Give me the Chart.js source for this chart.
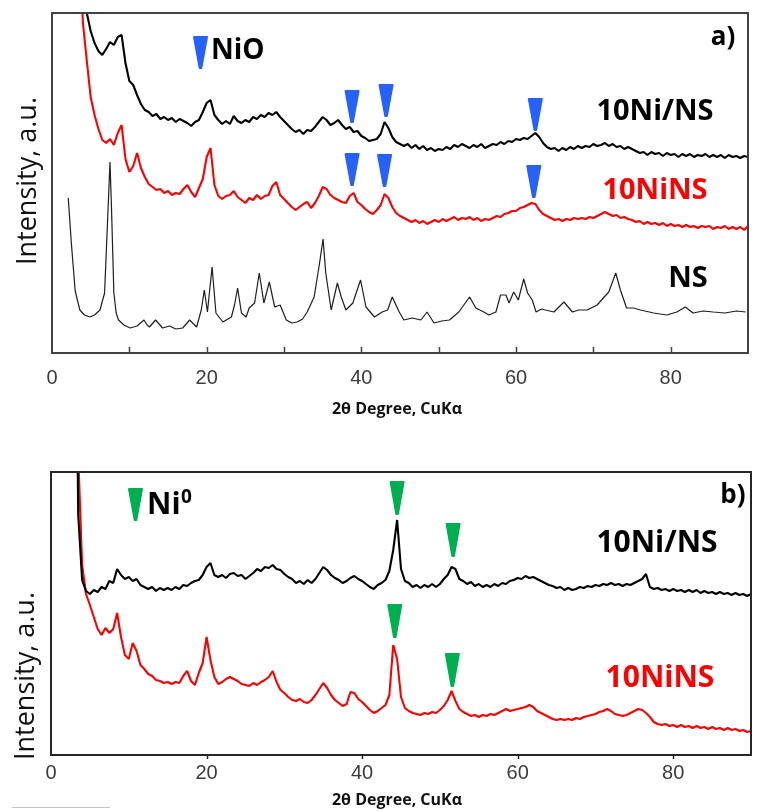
<!DOCTYPE html>
<html>
<head>
<meta charset="utf-8">
<script src="https://cdn.jsdelivr.net/npm/chart.js@4.4.1/dist/chart.umd.min.js"></script>
<style>
  html, body { margin: 0; padding: 0; background: #fff; width: 758px; height: 812px; overflow: hidden; }
  canvas { position: absolute; left: 0; }
  #panelA { top: 0; }
  #panelB { top: 430px; }
</style>
</head>
<body>
<canvas id="panelA" width="758" height="425"></canvas>
<canvas id="panelB" width="758" height="382"></canvas>
<script>
// 2θ scan grid (degrees) shared by the noisy patterns
const twoTheta = [];
for (let a = 2; a <= 90; a += 0.5) twoTheta.push(a);

// Panel a) calcined samples, intensity in arbitrary units (offset stacked)
const calcNiSlashNS = [
  null, null, null, null, 420, 340, 322, 310, 302, 298,
  304, 311, 308, 316, 318, 290, 272, 268, 258, 249,
  243, 241, 237, 239, 234, 236, 233, 235, 231, 234,
  232, 230, 227, 231, 233, 241, 250, 253, 238, 233,
  229, 232, 229, 237, 232, 230, 233, 231, 236, 234,
  238, 236, 240, 238, 241, 236, 232, 228, 224, 221,
  223, 219, 223, 222, 226, 231, 236, 233, 228, 230,
  233, 228, 224, 226, 221, 222, 217, 215, 212, 213,
  214, 219, 231, 225, 216, 211, 209, 207, 209, 205,
  208, 204, 207, 203, 205, 202, 204, 203, 206, 204,
  208, 206, 209, 207, 205, 208, 206, 209, 205, 207,
  209, 208, 211, 209, 212, 211, 214, 213, 215, 214,
  217, 220, 216, 210, 206, 204, 205, 202, 205, 203,
  206, 204, 207, 205, 207, 206, 209, 207, 208, 210,
  207, 209, 206, 207, 204, 206, 204, 202, 200, 201,
  198, 201, 199, 200, 197, 200, 198, 199, 196, 199,
  197, 199, 196, 198, 197, 199, 196, 198, 196, 198,
  195, 198, 196, 197, 195, 197, 196
];
const calcNiNS = [
  null, null, null, 420, 330, 292, 256, 238, 224, 213,
  210, 214, 208, 220, 228, 194, 181, 187, 200, 185,
  176, 169, 166, 163, 164, 160, 162, 158, 160, 159,
  164, 168, 161, 156, 165, 174, 196, 205, 168, 157,
  154, 157, 158, 162, 156, 153, 150, 155, 153, 158,
  154, 157, 158, 167, 171, 158, 154, 150, 146, 143,
  146, 149, 151, 145, 150, 157, 166, 164, 158, 155,
  153, 151, 150, 157, 160, 151, 148, 144, 141, 139,
  143, 148, 159, 155, 146, 140, 137, 135, 133, 131,
  133, 130, 132, 129, 131, 133, 131, 134, 132, 134,
  136, 133, 135, 134, 136, 133, 135, 132, 134, 133,
  135, 137, 136, 139, 140, 142, 142, 145, 146, 148,
  150, 149, 143, 139, 137, 135, 133, 134, 132, 134,
  133, 135, 134, 135, 134, 136, 135, 137, 139, 141,
  139, 137, 138, 135, 136, 134, 133, 131, 132, 129,
  131, 129, 130, 128, 130, 127, 129, 127, 128, 126,
  128, 126, 127, 125, 127, 126, 127, 124, 126, 125,
  127, 124, 126, 124, 126, 123, 127
];
// NS support pattern, sampled at its own angles
const nsAngles = [
  2.1, 2.5, 3.0, 3.6, 4.2, 4.9, 5.5, 6.2, 6.8, 7.1, 7.5, 7.7, 8.0, 8.3, 8.6, 9.3,
  10.1, 11.0, 11.9, 12.3, 12.6, 13.4, 14.3, 15.2, 16.0, 16.9, 17.8, 18.7, 19.3, 19.7,
  20.1, 20.7, 21.2, 22.1, 23.2, 23.6, 24.0, 24.5, 25.1, 25.5, 26.2, 26.8, 27.4, 28.1,
  28.8, 29.5, 30.3, 31.0, 31.7, 32.4, 33.0, 33.9, 34.6, 35.05, 35.4, 36.1, 36.9, 37.4,
  38.0, 38.9, 39.9, 40.6, 41.7, 42.7, 43.4, 44.0, 44.9, 45.5, 46.6, 47.7, 48.5, 49.4,
  50.4, 51.4, 52.6, 54.0, 54.8, 55.6, 56.5, 57.4, 58.0, 58.7, 59.1, 59.7, 60.3, 61.0,
  61.5, 62.1, 62.6, 63.3, 63.8, 64.9, 66.2, 67.3, 68.1, 69.2, 70.5, 71.4, 72.0, 72.9,
  73.5, 74.3, 75.2, 76.1, 77.8, 79.5, 80.8, 81.9, 82.9, 84.2, 85.5, 87.0, 88.5, 89.7
];
const nsValues = [
  155, 110, 62, 43, 38, 36, 38, 43, 60, 116, 191, 143, 60, 40, 33, 28,
  25, 27, 33, 28, 26, 33, 25, 27, 24, 25, 33, 26, 43, 63,
  41, 86, 40, 31, 36, 48, 65, 40, 36, 45, 50, 80, 50, 71,
  46, 48, 33, 30, 31, 34, 41, 56, 90, 114, 80, 43, 70, 56,
  43, 50, 73, 46, 36, 41, 43, 56, 41, 33, 35, 33, 41, 30,
  32, 33, 41, 56, 45, 42, 38, 41, 58, 58, 50, 61, 53, 74,
  60, 53, 41, 44, 43, 41, 51, 41, 43, 43, 48, 56, 61, 80,
  63, 45, 45, 43, 40, 38, 41, 46, 40, 42, 41, 40, 42, 41
];

// Panel b) reduced samples
const redNiSlashNS = [
  null, null, 600, 240, 175, 164, 161, 165, 163, 168,
  166, 174, 172, 186, 180, 176, 178, 174, 176, 170,
  168, 166, 168, 164, 167, 165, 167, 165, 168, 166,
  170, 169, 172, 174, 175, 180, 188, 192, 180, 178,
  180, 177, 181, 182, 179, 180, 176, 179, 182, 186,
  184, 188, 187, 190, 186, 185, 181, 178, 176, 172,
  174, 171, 175, 172, 176, 182, 188, 185, 180, 177,
  175, 172, 174, 177, 179, 176, 174, 171, 168, 166,
  170, 172, 175, 184, 205, 235, 186, 174, 172, 168,
  170, 167, 170, 168, 171, 168, 171, 176, 180, 188,
  186, 176, 174, 171, 173, 169, 171, 168, 170, 168,
  171, 169, 172, 171, 174, 175, 177, 176, 179, 177,
  178, 176, 174, 172, 170, 169, 167, 168, 165, 167,
  165, 166, 168, 167, 169, 168, 170, 169, 171, 170,
  172, 170, 171, 169, 171, 170, 172, 174, 176, 181,
  168, 166, 167, 165, 166, 164, 166, 164, 165, 163,
  165, 163, 165, 162, 164, 162, 163, 161, 163, 161,
  162, 160, 162, 160, 161, 159, 161
];
const redNiNS = [
  null, null, 700, 300, 190, 161, 150, 138, 126, 120,
  127, 122, 126, 142, 118, 100, 96, 112, 104, 90,
  86, 81, 79, 75, 74, 72, 73, 71, 73, 72,
  79, 84, 74, 70, 82, 92, 118, 95, 78, 71,
  73, 76, 78, 76, 74, 71, 70, 69, 72, 70,
  73, 75, 78, 84, 73, 65, 62, 58, 55, 54,
  56, 53, 52, 55, 60, 66, 72, 67, 60, 55,
  52, 49, 51, 63, 62, 56, 53, 49, 45, 42,
  44, 47, 50, 60, 110, 96, 58, 47, 44, 42,
  41, 40, 42, 41, 43, 42, 45, 49, 55, 64,
  54, 46, 43, 41, 39, 40, 38, 40, 39, 41,
  40, 42, 44, 46, 44, 45, 46, 47, 48, 50,
  48, 44, 42, 40, 38, 36, 35, 36, 35, 36,
  35, 37, 36, 38, 39, 40, 41, 43, 44, 46,
  44, 41, 40, 39, 40, 42, 44, 46, 45, 42,
  38, 33, 31, 30, 31, 29, 30, 28, 30, 28,
  29, 27, 29, 27, 28, 26, 28, 26, 27, 25,
  27, 25, 26, 24, 25, 23, 24
];

// Reflection markers: 2θ position and the intensity level of the marker tip
const nioAnglesNiSlashNS = [38.8, 43.2, 62.5];
const nioTipsNiSlashNS   = [230, 236, 222];
const nioAnglesNiNS      = [38.8, 43.0, 62.3];
const nioTipsNiNS        = [167, 166, 155];
const ni0AnglesNiSlashNS = [44.5, 51.7];
const ni0TipsNiSlashNS   = [240, 198];
const ni0AnglesNiNS      = [44.2, 51.6];
const ni0TipsNiNS        = [117, 68];

const xTickValues = [0, 20, 40, 60, 80];

const NIO_BLUE = '#2762f8';
const NI_GREEN = '#00b050';
const LABEL_FONT = '"Open Sans", "DejaVu Sans", sans-serif';

const toPoints = (xs, ys) => xs.map((x, i) => ({ x: x, y: ys[i] })).filter(p => p.y !== null);

function drawWedge(ctx, cx, tipY, w, h, color) {
  const top = tipY - h;
  ctx.save();
  ctx.fillStyle = color;
  ctx.strokeStyle = color;
  ctx.lineWidth = 2;
  ctx.lineJoin = 'round';
  ctx.beginPath();
  ctx.moveTo(cx - w / 2, top + 1);
  ctx.lineTo(cx + w / 2, top + 1);
  ctx.lineTo(cx + 0.8, tipY - 1);
  ctx.lineTo(cx - 0.8, tipY - 1);
  ctx.closePath();
  ctx.fill();
  ctx.stroke();
  ctx.restore();
}

// Frame, tick marks, phase markers and in-plot labels
const panelDecor = {
  id: 'panelDecor',
  afterDraw(chart, args, opts) {
    const ctx = chart.ctx;
    const area = chart.chartArea;
    const xs = chart.scales.x, ys = chart.scales.y;

    ctx.save();
    // tick marks on the 2θ axis
    ctx.strokeStyle = opts.frameColor;
    ctx.lineWidth = 1.5;
    opts.tickValues.forEach(v => {
      const px = Math.round(xs.getPixelForValue(v)) + 0.5;
      ctx.beginPath();
      ctx.moveTo(px, area.bottom);
      ctx.lineTo(px, area.bottom + opts.tickDir * opts.tickLen);
      ctx.stroke();
    });
    // plot frame
    ctx.lineWidth = opts.frameWidth;
    ctx.strokeRect(area.left, area.top, area.right - area.left, area.bottom - area.top);
    ctx.restore();

    // phase markers over the reflections
    opts.markers.forEach(m => {
      m.angles.forEach((a, i) => {
        drawWedge(ctx, xs.getPixelForValue(a), ys.getPixelForValue(m.tips[i]), m.w, m.h, m.color);
      });
    });
    (opts.legendWedges || []).forEach(k => drawWedge(ctx, k.x, k.tipY, k.w, k.h, k.color));

    // texts
    opts.texts.forEach(t => {
      ctx.save();
      ctx.font = t.font;
      ctx.fillStyle = t.color || '#000';
      ctx.textAlign = t.align || 'center';
      ctx.textBaseline = 'middle';
      ctx.translate(t.x, t.y);
      if (t.rotate) ctx.rotate(t.rotate * Math.PI / 180);
      ctx.fillText(t.text, 0, 0);
      ctx.restore();
    });

    (opts.rules || []).forEach(r => {
      ctx.save();
      ctx.strokeStyle = r.color;
      ctx.lineWidth = 1;
      ctx.beginPath();
      ctx.moveTo(r.x1, r.y + 0.5);
      ctx.lineTo(r.x2, r.y + 0.5);
      ctx.stroke();
      ctx.restore();
    });
  }
};

function panelOptions(cfg) {
  return {
    responsive: false,
    animation: false,
    events: [],
    layout: { padding: { left: cfg.left, right: cfg.right, top: cfg.top, bottom: 0 } },
    plugins: {
      legend: { display: false },
      tooltip: { enabled: false },
      panelDecor: cfg.decor
    },
    elements: { point: { radius: 0 }, line: { tension: 0, borderJoinStyle: 'bevel' } },
    scales: {
      x: {
        type: 'linear', min: 0, max: 90,
        afterBuildTicks: s => { s.ticks = xTickValues.map(v => ({ value: v })); },
        afterFit: s => { s.height = cfg.axisHeight; },
        grid: { display: false, drawTicks: false },
        border: { display: false },
        ticks: {
          padding: cfg.tickPad, maxRotation: 0, autoSkip: false,
          color: '#3c3c3c',
          font: { family: '"Liberation Sans", Arial, sans-serif', size: 20 }
        }
      },
      y: { display: false, min: 0, max: cfg.yMax }
    }
  };
}

new Chart(document.getElementById('panelA'), {
  type: 'line',
  data: {
    datasets: [
      { data: toPoints(twoTheta, calcNiSlashNS), borderColor: '#000000', borderWidth: 2.1 },
      { data: toPoints(twoTheta, calcNiNS), borderColor: '#ff0000', borderWidth: 2.1 },
      { data: toPoints(nsAngles, nsValues), borderColor: '#1e1e1e', borderWidth: 1.2 }
    ]
  },
  plugins: [panelDecor],
  options: panelOptions({
    left: 52, right: 10, top: 13, axisHeight: 72, tickPad: 13, yMax: 340,
    decor: {
      frameColor: '#424242', frameWidth: 2,
      tickValues: [10, 20, 30, 40, 50, 60, 70, 80], tickLen: 6, tickDir: -1,
      markers: [
        { angles: nioAnglesNiSlashNS, tips: nioTipsNiSlashNS, color: NIO_BLUE, w: 13, h: 33 },
        { angles: nioAnglesNiNS, tips: nioTipsNiNS, color: NIO_BLUE, w: 13, h: 33 }
      ],
      legendWedges: [ { x: 200.5, tipY: 69, w: 13, h: 33, color: NIO_BLUE } ],
      texts: [
        { text: 'NiO', x: 211, y: 51, align: 'left', font: '700 28px ' + LABEL_FONT },
        { text: 'a)', x: 723, y: 38, font: '700 26px ' + LABEL_FONT },
        { text: '10Ni/NS', x: 655, y: 112, font: '700 29px ' + LABEL_FONT },
        { text: '10NiNS', x: 655, y: 191, color: '#ff0000', font: '700 29px ' + LABEL_FONT },
        { text: 'NS', x: 688, y: 279, font: '700 29px ' + LABEL_FONT },
        { text: 'Intensity, a.u.', x: 28, y: 181, rotate: -90, color: '#111', font: '400 27px ' + LABEL_FONT },
        { text: '2θ Degree, CuKα', x: 397, y: 409, color: '#111', font: '700 16px ' + LABEL_FONT }
      ]
    }
  })
});

new Chart(document.getElementById('panelB'), {
  type: 'line',
  data: {
    datasets: [
      { data: toPoints(twoTheta, redNiSlashNS), borderColor: '#000000', borderWidth: 2.1 },
      { data: toPoints(twoTheta, redNiNS), borderColor: '#ff0000', borderWidth: 2.1 }
    ]
  },
  plugins: [panelDecor],
  options: panelOptions({
    left: 51, right: 7, top: 42, axisHeight: 57, tickPad: 6, yMax: 283,
    decor: {
      frameColor: '#262626', frameWidth: 2,
      tickValues: [20, 40, 60, 80], tickLen: 4, tickDir: 1,
      markers: [
        { angles: ni0AnglesNiSlashNS, tips: ni0TipsNiSlashNS, color: NI_GREEN, w: 13, h: 34 },
        { angles: ni0AnglesNiNS, tips: ni0TipsNiNS, color: NI_GREEN, w: 13, h: 34 }
      ],
      legendWedges: [ { x: 135.5, tipY: 91, w: 13, h: 33, color: NI_GREEN } ],
      texts: [
        { text: 'Ni', x: 147, y: 75, align: 'left', font: '700 30px ' + LABEL_FONT },
        { text: '0', x: 181, y: 68, align: 'left', font: '700 19px ' + LABEL_FONT },
        { text: 'b)', x: 733, y: 66, font: '700 26px ' + LABEL_FONT },
        { text: '10Ni/NS', x: 657, y: 113, font: '700 30px ' + LABEL_FONT },
        { text: '10NiNS', x: 660, y: 248, color: '#ff0000', font: '700 30px ' + LABEL_FONT },
        { text: 'Intensity, a.u.', x: 26, y: 246, rotate: -90, color: '#111', font: '400 27px ' + LABEL_FONT },
        { text: '2θ Degree, CuKα', x: 397, y: 370, color: '#111', font: '700 16px ' + LABEL_FONT }
      ],
      rules: [
        { x1: 12, x2: 110, y: 377, color: '#c4c4c4' }
      ]
    }
  })
});
</script>
</body>
</html>
